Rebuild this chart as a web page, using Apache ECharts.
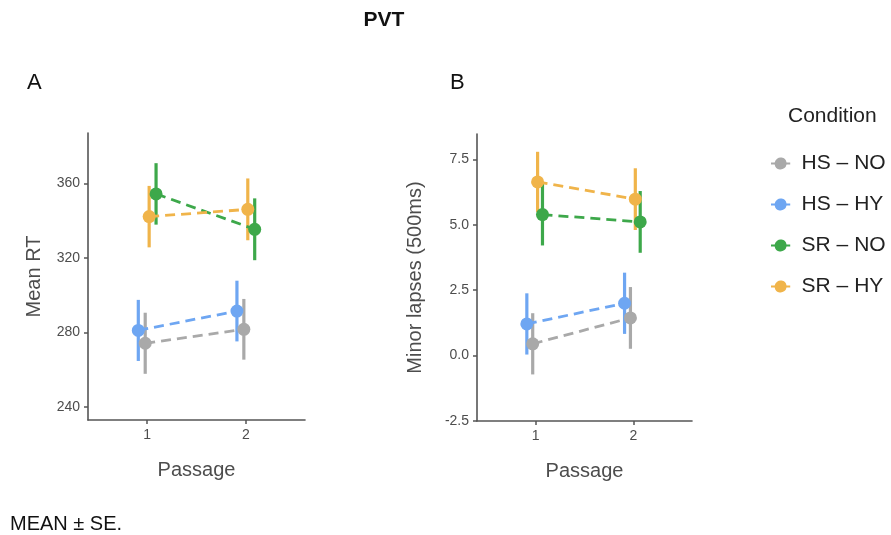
<!DOCTYPE html>
<html><head><meta charset="utf-8">
<script src="https://cdn.jsdelivr.net/npm/echarts@6/dist/echarts.min.js"></script>
<style>html,body{margin:0;padding:0;background:#fff}#c{width:891px;height:535px}</style>
</head><body><div id="c"></div>
<script>
// ---- data ----
const conditions = ['HS – NO', 'HS – HY', 'SR – NO', 'SR – HY'];
const colors = ['#A9A9A9', '#6EA6F2', '#3DA84A', '#F0B44A'];
const passages = [1, 2];
// Panel A: Mean RT (mean, SE) per condition at passage 1, 2
const rtMean = [[274.1, 281.6], [281.0, 291.4], [354.3, 335.3], [342.1, 346.0]];
const rtSE   = [[16.4, 16.3], [16.4, 16.3], [16.5, 16.6], [16.5, 16.6]];
// Panel B: Minor lapses (500ms)
const lapseMean = [[0.45, 1.44], [1.21, 2.00], [5.39, 5.11], [6.64, 5.98]];
const lapseSE   = [[1.17, 1.18], [1.17, 1.17], [1.18, 1.18], [1.15, 1.18]];
// dodge offsets (position adjustment)
const dodgeA = [-0.02, -0.09, 0.09, 0.02];
const dodgeB = [-0.03, -0.09, 0.07, 0.02];
const ticksA = [240, 280, 320, 360];
const ticksB = [-2.5, 0, 2.5, 5, 7.5];

const chart = echarts.init(document.getElementById('c'));
const axisCol = '#555';
const labCol = '#4d4d4d';
const FF = 'Liberation Sans';
function xAx(gi) {
  return {
    gridIndex: gi, type: 'value', min: 0.4, max: 2.6,
    name: 'Passage', nameLocation: 'middle', nameGap: 40,
    nameTextStyle: {fontSize: 20, color: labCol, fontFamily: FF},
    axisLine: {show: true, onZero: false, lineStyle: {color: axisCol, width: 1.6}},
    axisTick: {show: true, length: 4, customValues: passages, lineStyle: {color: axisCol, width: 1.5}},
    axisLabel: {customValues: passages, fontSize: 14, color: labCol, margin: 8, fontFamily: FF},
    splitLine: {show: false}
  };
}
function yAx(gi, min, max, ticks, name, gap, fmt) {
  return {
    gridIndex: gi, type: 'value', min: min, max: max,
    name: name, nameLocation: 'middle', nameGap: gap,
    nameTextStyle: {fontSize: 20, color: labCol, fontFamily: FF},
    axisLine: {show: true, onZero: false, lineStyle: {color: axisCol, width: 1.6}},
    axisTick: {show: true, length: 4, customValues: ticks, lineStyle: {color: axisCol, width: 1.5}},
    axisLabel: {customValues: ticks, fontSize: 14, color: labCol, margin: 8, fontFamily: FF, formatter: fmt},
    splitLine: {show: false}
  };
}
const series = [];
function addPanel(gi, means, ses, dodge) {
  conditions.forEach((c, i) => {
    series.push({
      name: c, type: 'line', xAxisIndex: gi, yAxisIndex: gi,
      data: passages.map((p, j) => [p + dodge[i], means[i][j]]),
      lineStyle: {color: colors[i], width: 2.8, type: [10, 6]},
      itemStyle: {color: colors[i]},
      symbol: 'circle', symbolSize: 13, z: 3, animation: false
    });
  });
  conditions.forEach((c, i) => {
    series.push({
      name: c + ' se', type: 'custom', xAxisIndex: gi, yAxisIndex: gi,
      data: passages.map((p, j) => [p + dodge[i], means[i][j] - ses[i][j], means[i][j] + ses[i][j]]),
      renderItem: function (params, api) {
        const lo = api.coord([api.value(0), api.value(1)]);
        const hi = api.coord([api.value(0), api.value(2)]);
        return {type: 'line', shape: {x1: lo[0], y1: lo[1], x2: hi[0], y2: hi[1]},
                style: {stroke: colors[i], lineWidth: 3.2}};
      },
      z: 2, animation: false
    });
  });
}
addPanel(0, rtMean, rtSE, dodgeA);
addPanel(1, lapseMean, lapseSE, dodgeB);

const legIcon = 'path://M0,4.2 L3.065,4.2 A5,5 0 0 1 12.935,4.2 L16,4.2 L16,5.8 L12.935,5.8 A5,5 0 0 1 3.065,5.8 L0,5.8 Z';
chart.setOption({
  backgroundColor: '#fff',
  animation: false,
  title: [
    {text: 'PVT', left: 379, top: 5, textAlign: 'center', textStyle: {fontSize: 21, fontWeight: 'bold', color: '#111', fontFamily: FF}},
    {text: 'A', left: 22, top: 67, textStyle: {fontSize: 22, fontWeight: 'normal', color: '#111', fontFamily: FF}},
    {text: 'B', left: 445, top: 67, textStyle: {fontSize: 22, fontWeight: 'normal', color: '#111', fontFamily: FF}},
    {text: 'Condition', left: 783, top: 101, textStyle: {fontSize: 21, fontWeight: 'normal', color: '#222', fontFamily: FF}},
    {text: 'MEAN ± SE.', left: 5, top: 509, textStyle: {fontSize: 20, fontWeight: 'normal', color: '#111', fontFamily: FF}}
  ],
  legend: {
    orient: 'vertical', left: 766, top: 148,
    data: conditions.map(c => ({name: c, icon: legIcon})),
    itemWidth: 20, itemHeight: 12, itemGap: 20,
    textStyle: {fontSize: 21, color: '#222', fontFamily: FF, padding: [0, 0, 0, 6]},
    selectedMode: false
  },
  grid: [
    {left: 88, right: 586, top: 133, bottom: 115},
    {left: 477, right: 199, top: 134, bottom: 114}
  ],
  xAxis: [xAx(0), xAx(1)],
  yAxis: [
    yAx(0, 232.9, 387, ticksA, 'Mean RT', 44, v => String(v)),
    yAx(1, -2.5, 8.47, ticksB, 'Minor lapses (500ms)', 52, v => v.toFixed(1))
  ],
  series: series
});
</script></body></html>
